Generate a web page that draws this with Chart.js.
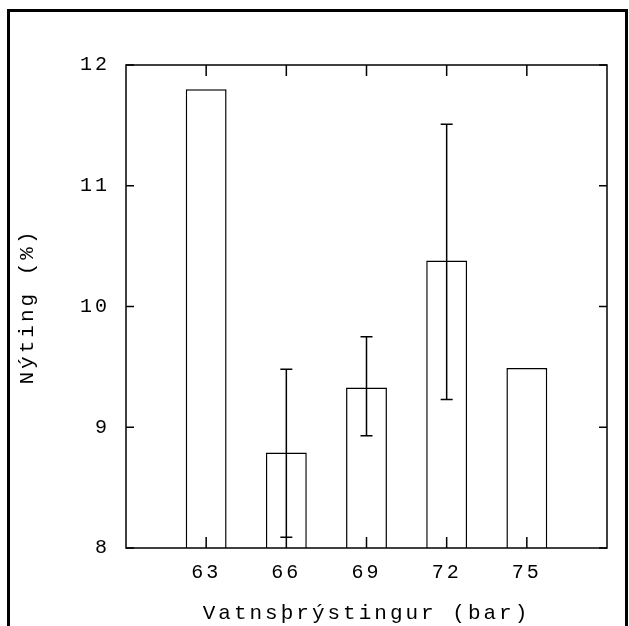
<!DOCTYPE html>
<html>
<head>
<meta charset="utf-8">
<script src="https://cdn.jsdelivr.net/npm/chart.js@4.4.1/dist/chart.umd.min.js"></script>
<style>
  body { margin: 0; background: #fff; }
  canvas { display: block; }
</style>
</head>
<body>
<canvas id="chart" width="629" height="626"></canvas>
<script>
// Vatnsþrýstingur (bar) vs Nýting (%)
const pressures = [63, 66, 69, 72, 75];
const yieldValues = [11.80, 8.79, 9.33, 10.38, 9.49];
const errLow = [null, 8.09, 8.93, 9.23, null];
const errHigh = [null, 9.48, 9.75, 11.51, null];
const yTicks = [8, 9, 10, 11, 12];

const xTitle = 'Vatnsþrýstingur (bar)';
const yTitle = 'Nýting (%)';

const monoFont = 'Liberation Mono';

// error bars, inward ticks, plot box and outer frame
const decorations = {
    id: 'decorations',
    beforeDraw(chart) {
        chart.ctx.letterSpacing = '3px';
    },
    afterDatasetsDraw(chart) {
        const ctx = chart.ctx;
        const x = chart.scales.x;
        const y = chart.scales.y;
        ctx.save();
        ctx.strokeStyle = '#000';
        ctx.lineWidth = 1.5;
        pressures.forEach((p, i) => {
            if (errLow[i] === null) return;
            const px = x.getPixelForValue(p);
            const lo = y.getPixelForValue(errLow[i]);
            const hi = y.getPixelForValue(errHigh[i]);
            ctx.beginPath();
            ctx.moveTo(px, lo);
            ctx.lineTo(px, hi);
            ctx.moveTo(px - 6, lo);
            ctx.lineTo(px + 6, lo);
            ctx.moveTo(px - 6, hi);
            ctx.lineTo(px + 6, hi);
            ctx.stroke();
        });
        ctx.restore();
    },
    afterDraw(chart) {
        const ctx = chart.ctx;
        const a = chart.chartArea;
        const x = chart.scales.x;
        const y = chart.scales.y;
        ctx.save();
        ctx.letterSpacing = '0px';
        ctx.strokeStyle = '#000';
        ctx.lineWidth = 1.5;
        ctx.strokeRect(a.left, a.top, a.right - a.left, a.bottom - a.top);

        ctx.beginPath();
        x.ticks.forEach(t => {
            const px = x.getPixelForValue(t.value);
            ctx.moveTo(px, a.bottom);
            ctx.lineTo(px, a.bottom - 11);
            ctx.moveTo(px, a.top);
            ctx.lineTo(px, a.top + 11);
        });
        y.ticks.forEach(t => {
            const py = y.getPixelForValue(t.value);
            ctx.moveTo(a.left, py);
            ctx.lineTo(a.left + 8, py);
            ctx.moveTo(a.right, py);
            ctx.lineTo(a.right - 8, py);
        });
        ctx.stroke();

        // outer frame
        ctx.lineWidth = 3;
        ctx.strokeRect(8.5, 10.5, 618, 700);
        ctx.restore();
    }
};

new Chart(document.getElementById('chart'), {
    type: 'bar',
    data: {
        datasets: [{
            data: pressures.map((p, i) => ({ x: p, y: yieldValues[i] })),
            backgroundColor: '#fff',
            borderColor: '#000',
            borderWidth: 1.5,
            barPercentage: 0.51,
            categoryPercentage: 1
        }]
    },
    options: {
        responsive: false,
        animation: false,
        layout: { padding: { left: 0, top: 65, right: 22, bottom: 0 } },
        plugins: {
            legend: { display: false },
            tooltip: { enabled: false }
        },
        scales: {
            x: {
                type: 'linear',
                min: 60,
                max: 78,
                offset: false,
                afterBuildTicks: scale => {
                    scale.ticks = pressures.map(v => ({ value: v }));
                },
                afterFit: scale => { scale.height = 78; },
                grid: { display: false, drawTicks: false, offset: false },
                border: { display: false },
                ticks: {
                    color: '#000',
                    padding: 13,
                    maxRotation: 0,
                    font: { family: monoFont, size: 20 }
                },
                title: {
                    display: true,
                    text: xTitle,
                    color: '#000',
                    padding: { top: 0, bottom: 0 },
                    font: { family: monoFont, size: 21 }
                }
            },
            y: {
                min: 8,
                max: 12,
                afterBuildTicks: scale => {
                    scale.ticks = yTicks.map(v => ({ value: v }));
                },
                afterFit: scale => { scale.width = 126; },
                grid: { display: false, drawTicks: false },
                border: { display: false },
                ticks: {
                    color: '#000',
                    padding: 16,
                    font: { family: monoFont, size: 20 }
                },
                title: {
                    display: true,
                    text: yTitle,
                    color: '#000',
                    padding: { top: 15, bottom: 0 },
                    font: { family: monoFont, size: 21 }
                }
            }
        }
    },
    plugins: [decorations]
});
</script>
</body>
</html>
